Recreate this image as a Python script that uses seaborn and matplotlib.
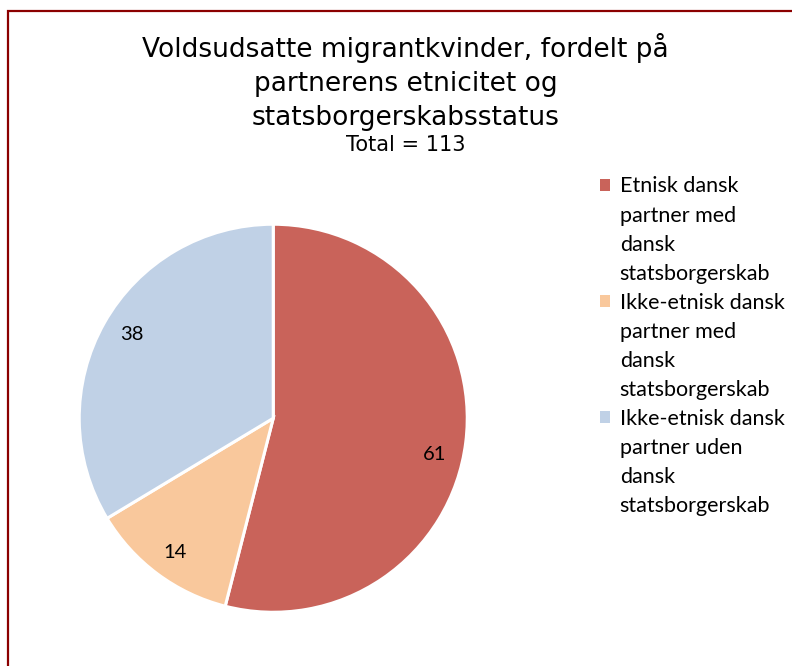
import numpy as np
import matplotlib
matplotlib.use("Agg")
import matplotlib.pyplot as plt
import seaborn as sns
from matplotlib.patches import Rectangle, Patch

# data
categories = [
    "Etnisk dansk\npartner med\ndansk\nstatsborgerskab",
    "Ikke-etnisk dansk\npartner med\ndansk\nstatsborgerskab",
    "Ikke-etnisk dansk\npartner uden\ndansk\nstatsborgerskab",
]
counts = [61, 14, 38]
total = 113
colors = ["#C9635A", "#F9C89C", "#C0D1E6"]

sns.set_theme(style="white")
plt.rcParams["font.family"] = ["DejaVu Sans"]
plt.rcParams["text.color"] = "black"

fig = plt.figure(figsize=(7.92, 6.66), dpi=100)

# frame of the chart area
fig.patches.append(Rectangle((8 / 792, -0.05), 1.1, 1 - 11 / 666 + 0.05,
                             transform=fig.transFigure, fill=False,
                             edgecolor="#8B0000", linewidth=1.6))

ax = fig.add_axes([0.345 - 0.245, 0.372 - 0.2913, 0.49, 0.5826])
wedges, texts = ax.pie(counts, colors=colors, startangle=90, counterclock=False,
                       wedgeprops=dict(edgecolor="white", linewidth=2.2))
ax.set_xlim(-1.0, 1.0)
ax.set_ylim(-1.0, 1.0)
ax.set_aspect("equal")

# data labels, Excel style placement
angle_shift = [-5, 0, -1.5]
cum = np.cumsum([0] + counts[:-1])
for n, c, sh in zip(counts, cum, angle_shift):
    mid = np.deg2rad(90 - 360 * (c + n / 2) / total + sh)
    r = 0.85
    ax.text(r * np.cos(mid), r * np.sin(mid) - 0.008, str(n), ha="center", va="center",
            fontsize=14.5, family=["Lato", "DejaVu Sans"], color="black")

fig.text(0.512, 0.877, "Voldsudsatte migrantkvinder, fordelt på\npartnerens etnicitet og\nstatsborgerskabsstatus",
         ha="center", va="center", fontsize=19, linespacing=1.38)
fig.text(0.512, 0.782, "Total = 113", ha="center", va="center", fontsize=15)

# legend: one row per text line, marker only on the first line of each entry
handles, labels = [], []
for cat, col in zip(categories, colors):
    for i, line in enumerate(cat.split("\n")):
        if i == 0:
            handles.append(Patch(facecolor=col, edgecolor="none"))
        else:
            handles.append(Patch(facecolor="none", edgecolor="none"))
        labels.append(line)

leg = fig.legend(handles, labels, loc="upper left", bbox_to_anchor=(0.758, 0.735),
                 frameon=False, prop={"family": ["Lato", "DejaVu Sans"], "size": 15.5},
                 handlelength=0.45, handleheight=0.45, handletextpad=0.45,
                 labelspacing=0.42, borderaxespad=0, borderpad=0)

fig.savefig("out.png", dpi=100, facecolor="white")
